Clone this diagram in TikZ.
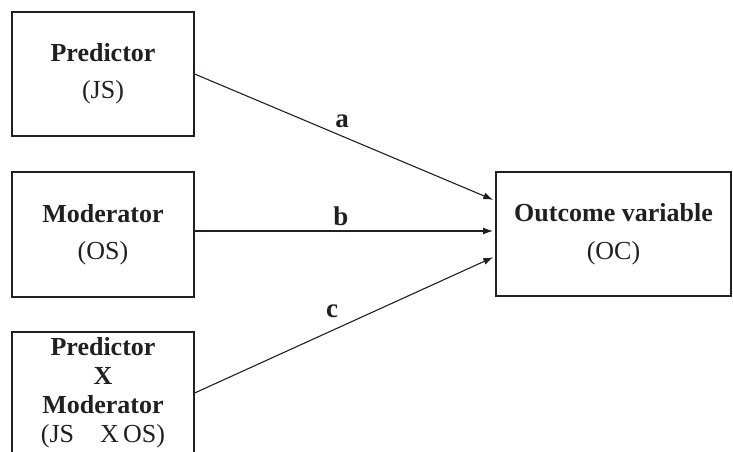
\documentclass[tikz,border=0pt]{standalone}
\usepackage{fontspec}
\setmainfont{Liberation Serif}
\usetikzlibrary{arrows.meta,calc}
\definecolor{ink}{RGB}{35,31,32}
\begin{document}
\begin{tikzpicture}[x=1pt,y=-1pt,
  box/.style={draw=ink, text=ink, line width=1.3pt, align=center, inner sep=0pt},
  conn/.style={draw=ink, line width=1.1pt, -{Latex[length=10pt,width=7pt]}, shorten >=3pt},
  lbl/.style={text=ink, font=\fontsize{27}{30}\selectfont\bfseries, inner sep=0pt}]
\useasboundingbox (0,0) rectangle (733,452);
\clip (0,0) rectangle (733,452);
\node[box, minimum width=182pt, minimum height=124pt, font=\fontsize{26}{37}\selectfont] (p) at (103,74) {\textbf{Predictor}\\(JS)};
\node[box, minimum width=182pt, minimum height=125pt, font=\fontsize{26}{37}\selectfont] (m) at (103,234.5) {\textbf{Moderator}\\(OS)};
\node[box, minimum width=182pt, minimum height=122pt, font=\fontsize{26}{29}\selectfont] (x) at (103,393) {\textbf{Predictor}\\\textbf{X}\\\textbf{Moderator}\\(JS\quad X\,OS)};
\node[box, minimum width=235pt, minimum height=124pt, font=\fontsize{26}{38}\selectfont] (o) at (613.5,234) {\textbf{Outcome variable}\\(OC)};
\coordinate (ta) at (496,201);
\coordinate (tb) at (496,231);
\coordinate (tc) at (496,256);
\draw[conn] (p.east) -- (ta);
\draw[conn] (m.east |- tb) -- (tb);
\draw[conn] (x.east) -- (tc);
\node[lbl] (la) at (342,121) {a};
\node[lbl] (lb) at (341,216) {b};
\node[lbl] (lc) at (332,311) {c};
\end{tikzpicture}
\end{document}
